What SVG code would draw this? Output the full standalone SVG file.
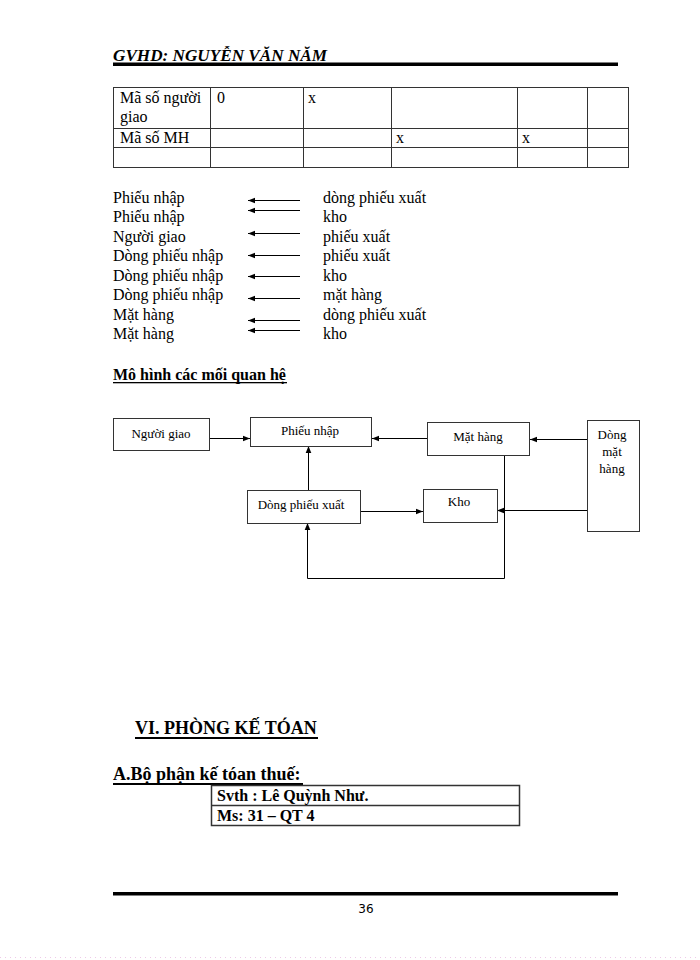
<svg xmlns="http://www.w3.org/2000/svg" width="700" height="960" viewBox="0 0 700 960">
<defs>
<marker id="ah" viewBox="0 0 10 10" refX="10" refY="5" markerWidth="7" markerHeight="7" markerUnits="userSpaceOnUse" orient="auto">
<path d="M0,1 L10,5 L0,9 Z" fill="#000"/>
</marker>
<style>
text{font-family:"Liberation Serif","Times New Roman","DejaVu Serif",serif;fill:#000}
.t{font-size:16px}
.d{font-size:13px}
.b{font-weight:bold}
.c{text-anchor:middle}
.box{fill:#fff;stroke:#333;stroke-width:1}
.cell{fill:none;stroke:#333;stroke-width:1}
.ln{fill:none;stroke:#000;stroke-width:1}
.arr{fill:none;stroke:#000;stroke-width:1;marker-end:url(#ah)}
</style>
</defs>
<rect width="700" height="960" fill="#fff"/>

<g id="header">
<text x="113" y="61" font-size="16" font-weight="bold" font-style="italic" textLength="214" lengthAdjust="spacingAndGlyphs">GVHD: NGUYỄN VĂN NĂM</text>
<rect x="113" y="62.5" width="505" height="3.5" fill="#000"/>
</g>

<g id="table">
<rect class="cell" x="113.5" y="87.5" width="515" height="80"/>
<line class="cell" x1="113.5" y1="128.5" x2="628.5" y2="128.5"/>
<line class="cell" x1="113.5" y1="147.5" x2="628.5" y2="147.5"/>
<line class="cell" x1="210.5" y1="87.5" x2="210.5" y2="167.5"/>
<line class="cell" x1="303.5" y1="87.5" x2="303.5" y2="167.5"/>
<line class="cell" x1="391.5" y1="87.5" x2="391.5" y2="167.5"/>
<line class="cell" x1="517.5" y1="87.5" x2="517.5" y2="167.5"/>
<line class="cell" x1="587.5" y1="87.5" x2="587.5" y2="167.5"/>
<text class="t" x="120" y="103">Mã số người</text>
<text class="t" x="120" y="122">giao</text>
<text class="t" x="217" y="103">0</text>
<text class="t" x="308" y="103">x</text>
<text class="t" x="120" y="143">Mã số MH</text>
<text class="t" x="396" y="143">x</text>
<text class="t" x="522" y="143">x</text>
</g>

<g id="list">
<text class="t" x="113" y="203">Phiếu nhập</text>
<text class="t" x="113" y="222">Phiếu nhập</text>
<text class="t" x="113" y="242">Người giao</text>
<text class="t" x="113" y="261">Dòng phiếu nhập</text>
<text class="t" x="113" y="281">Dòng phiếu  nhập</text>
<text class="t" x="113" y="300">Dòng phiếu nhập</text>
<text class="t" x="113" y="320">Mặt hàng</text>
<text class="t" x="113" y="339">Mặt hàng</text>
<text class="t" x="323" y="203">dòng phiếu xuất</text>
<text class="t" x="323" y="222">kho</text>
<text class="t" x="323" y="242">phiếu xuất</text>
<text class="t" x="323" y="261">phiếu xuất</text>
<text class="t" x="323" y="281">kho</text>
<text class="t" x="323" y="300">mặt hàng</text>
<text class="t" x="323" y="320">dòng phiếu xuất</text>
<text class="t" x="323" y="339">kho</text>
<line class="arr" x1="300" y1="200.5" x2="248" y2="200.5"/>
<line class="arr" x1="300" y1="210.5" x2="248" y2="210.5"/>
<line class="arr" x1="300" y1="233.5" x2="248" y2="233.5"/>
<line class="arr" x1="300" y1="255.5" x2="248" y2="255.5"/>
<line class="arr" x1="300" y1="276.5" x2="248" y2="276.5"/>
<line class="arr" x1="300" y1="298.5" x2="248" y2="298.5"/>
<line class="arr" x1="300" y1="320.5" x2="248" y2="320.5"/>
<line class="arr" x1="300" y1="330.5" x2="248" y2="330.5"/>
</g>

<g id="title-model">
<text class="t b" x="113" y="380">Mô hình các mối quan hệ</text>
<rect x="113" y="382" width="174" height="1.3" fill="#000"/>
</g>

<g id="connectors">
<line class="arr" x1="210" y1="438.5" x2="250" y2="438.5"/>
<line class="arr" x1="427" y1="438.5" x2="372" y2="438.5"/>
<line class="arr" x1="587" y1="439.5" x2="530" y2="439.5"/>
<line class="arr" x1="308.5" y1="490" x2="308.5" y2="446"/>
<line class="arr" x1="360" y1="511.5" x2="423" y2="511.5"/>
<line class="arr" x1="590" y1="510.5" x2="497" y2="510.5"/>
<polyline class="ln" points="504.5,455 504.5,578.5 307.5,578.5 307.5,540"/>
<line class="arr" x1="307.5" y1="545" x2="307.5" y2="523"/>
</g>

<g id="node-nguoi-giao">
<rect class="box" x="113.5" y="418.5" width="96" height="32"/>
<text class="d c" x="161" y="438">Người giao</text>
</g>
<g id="node-phieu-nhap">
<rect class="box" x="250.5" y="417.5" width="121" height="29"/>
<text class="d c" x="310" y="435">Phiếu  nhập</text>
</g>
<g id="node-mat-hang">
<rect class="box" x="427.5" y="422.5" width="102" height="33"/>
<text class="d c" x="478" y="441">Mặt hàng</text>
</g>
<g id="node-dong-mat-hang">
<rect class="box" x="587.5" y="420.5" width="52" height="111"/>
<text class="d c" x="612" y="439">Dòng</text>
<text class="d c" x="612" y="456">mặt</text>
<text class="d c" x="612" y="473">hàng</text>
</g>
<g id="node-dong-phieu-xuat">
<rect class="box" x="247.5" y="490.5" width="113" height="33"/>
<text class="d c" x="301" y="509">Dòng phiếu xuất</text>
</g>
<g id="node-kho">
<rect class="box" x="423.5" y="489.5" width="74" height="33"/>
<text class="d c" x="459" y="506">Kho</text>
</g>

<g id="section">
<text x="135" y="734" font-size="18" font-weight="bold">VI. PHÒNG KẾ TÓAN</text>
<rect x="135" y="737" width="183" height="2" fill="#000"/>
<text x="113" y="780" font-size="18" font-weight="bold">A.Bộ phận kế tóan thuế:</text>
<rect x="113" y="783" width="190" height="2" fill="#000"/>
</g>

<g id="author-box">
<rect x="211.5" y="785.5" width="308" height="40" fill="none" stroke="#333" stroke-width="1.5"/>
<line x1="211.5" y1="805.5" x2="519.5" y2="805.5" stroke="#333" stroke-width="1.5"/>
<text class="t b" x="217" y="801">Svth : Lê Quỳnh Như.</text>
<text class="t b" x="217" y="821">Ms: 31 – QT 4</text>
</g>

<g id="footer">
<rect x="113" y="892" width="505" height="3.5" fill="#000"/>
<text x="366" y="913" font-size="12" text-anchor="middle" style="font-family:'DejaVu Sans',sans-serif">36</text>
<line x1="0" y1="957.5" x2="700" y2="957.5" stroke="#f0c8e8" stroke-width="1" stroke-dasharray="1,4"/>
</g>
</svg>
